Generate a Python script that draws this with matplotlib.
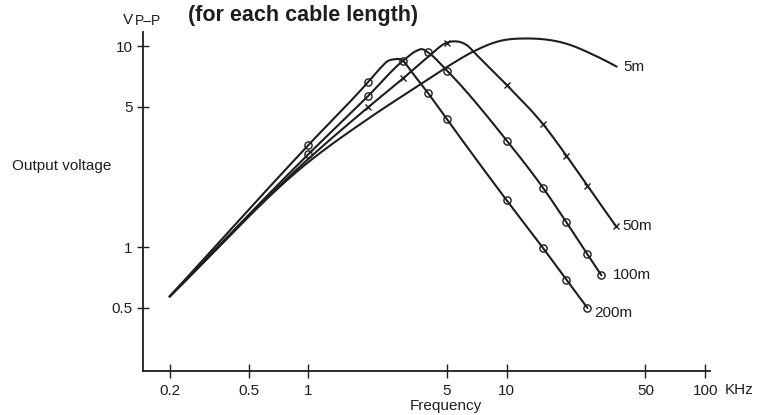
import numpy as np
import matplotlib
matplotlib.use("Agg")
import matplotlib.pyplot as plt
from matplotlib.ticker import FixedLocator, FixedFormatter, NullLocator

# ---------------- data ----------------
freq_5m = [0.2, 1, 2, 3.52, 5.18, 6.8, 9.25, 12.6, 20.1, 27.3, 35.8]
volt_5m = [0.57, 2.65, 4.35, 6.28, 8.05, 9.4, 10.6, 10.9, 10.25, 9.05, 7.9]
mark_5m = [0, 0, 0, 0, 0, 0, 0, 0, 0, 0, 0]

freq_50m = [0.2, 1, 2, 3, 4, 5, 5.4, 6.29, 7.06, 10, 15.2, 20, 25.5, 35.4]
volt_50m = [0.57, 2.75, 4.96, 6.9, 8.8, 10.4, 10.55, 10.1, 9.02, 6.4, 4.1, 2.85, 2.02, 1.28]
mark_50m = [0, 0, 1, 1, 0, 1, 0, 0, 0, 1, 1, 1, 1, 1]

freq_100m = [0.2, 1, 2, 3, 3.52, 3.73, 4, 5, 10, 15.2, 20, 25.5, 30]
volt_100m = [0.57, 2.9, 5.64, 8.45, 9.48, 9.65, 9.31, 7.54, 3.39, 1.98, 1.33, 0.923, 0.726]
mark_100m = [0, 1, 1, 0, 0, 0, 1, 1, 1, 1, 1, 1, 1]

freq_200m = [0.2, 1, 2, 2.3, 2.53, 2.68, 3, 3.26, 4, 5, 10, 15.2, 20, 25.5]
volt_200m = [0.57, 3.22, 6.62, 7.75, 8.45, 8.58, 8.45, 7.6, 5.86, 4.32, 1.71, 0.995, 0.69, 0.50]
mark_200m = [0, 1, 1, 0, 0, 0, 1, 0, 1, 1, 1, 1, 1, 1]

series_labels = ["5m", "50m", "100m", "200m"]
series_markers = [None, "x", "o", "o"]

x_ticks = [0.2, 0.5, 1, 5, 10, 50, 100]
x_ticklabels = ["0.2", "0.5", "1", "5", "10", "50", "100"]
y_ticks = [0.5, 1, 5, 10]
y_ticklabels = ["0.5", "1", "5", "10"]

# ---------------- helpers ----------------
def bessel_hermite(x, y, xn):
    x = np.asarray(x, float); y = np.asarray(y, float)
    n = len(x)
    h = np.diff(x); d = np.diff(y) / h
    m = np.zeros(n)
    for k in range(1, n - 1):
        m[k] = (h[k] * d[k - 1] + h[k - 1] * d[k]) / (h[k - 1] + h[k])
    m[0] = d[0]
    m[-1] = ((2 * h[-1] + h[-2]) * d[-1] - h[-1] * d[-2]) / (h[-1] + h[-2])
    idx = np.clip(np.searchsorted(x, xn) - 1, 0, n - 2)
    t = (xn - x[idx]) / h[idx]
    h00 = 2 * t**3 - 3 * t**2 + 1
    h10 = t**3 - 2 * t**2 + t
    h01 = -2 * t**3 + 3 * t**2
    h11 = t**3 - t**2
    return h00 * y[idx] + h10 * h[idx] * m[idx] + h01 * y[idx + 1] + h11 * h[idx] * m[idx + 1]

def smooth_loglog(f, v, num=800):
    lf = np.log10(f); lv = np.log10(v)
    xs = np.linspace(lf[0], lf[-1], num)
    return 10 ** xs, 10 ** bessel_hermite(lf, lv, xs)

# ---------------- figure ----------------
plt.rcParams['font.family'] = ['Liberation Sans', 'DejaVu Sans']
ink = "#1e1e1e"
fig = plt.figure(figsize=(7.58, 4.15), dpi=100)
ax = fig.add_axes([0.1883, 0.106, 0.7484, 0.8169])
ax.set_xscale("log"); ax.set_yscale("log")
ax.set_xlim(0.1463, 105.8)
ax.set_ylim(0.2429, 11.74)

all_series = [
    (freq_5m, volt_5m, mark_5m),
    (freq_50m, volt_50m, mark_50m),
    (freq_100m, volt_100m, mark_100m),
    (freq_200m, volt_200m, mark_200m),
]
label_offsets = [(5, 0), (5, 0), (8, 0), (5, -4)]

for (f, v, mk), lab, mkr, off in zip(all_series, series_labels, series_markers, label_offsets):
    xs, ys = smooth_loglog(f, v)
    ax.plot(xs, ys, color=ink, lw=1.5, solid_capstyle="round", zorder=2)
    if mkr is not None:
        fm = [a for a, b in zip(f, mk) if b]
        vm = [a for a, b in zip(v, mk) if b]
        if mkr == "o":
            ax.plot(fm, vm, linestyle="none", marker="o", ms=5.2, mfc="none",
                    mec=ink, mew=1.0, zorder=3)
        else:
            ax.plot(fm, vm, linestyle="none", marker="x", ms=5.0, mec=ink,
                    mew=1.0, zorder=3)
    ax.annotate(lab, xy=(f[-1], v[-1]), xytext=off, textcoords="offset points",
                ha="left", va="center", fontsize=11, color=ink)

for s in ["top", "right"]:
    ax.spines[s].set_visible(False)
for s in ["left", "bottom"]:
    ax.spines[s].set_linewidth(1.3)
    ax.spines[s].set_color(ink)

ax.xaxis.set_major_locator(FixedLocator(x_ticks))
ax.xaxis.set_major_formatter(FixedFormatter(x_ticklabels))
ax.yaxis.set_major_locator(FixedLocator(y_ticks))
ax.yaxis.set_major_formatter(FixedFormatter(y_ticklabels))
ax.xaxis.set_minor_locator(NullLocator())
ax.yaxis.set_minor_locator(NullLocator())
ax.tick_params(axis="x", direction="inout", length=10, width=1.0, pad=4,
               labelsize=11, colors=ink)
ax.tick_params(axis="y", direction="inout", length=8.5, width=1.0, pad=3,
               labelsize=11, colors=ink)

# axis texts
fig.text(12 / 758, 1 - 166 / 415, "Output voltage", ha="left", va="center",
         fontsize=11, color=ink)
fig.text(446 / 758, 1 - 406 / 415, "Frequency", ha="center", va="center",
         fontsize=11, color=ink)
fig.text(725 / 758, 1 - 390 / 415, "KHz", ha="left", va="center",
         fontsize=11, color=ink)
fig.text(123 / 758, 1 - 23.5 / 415, "V", ha="left", va="baseline",
         fontsize=11, color=ink)
fig.text(134.5 / 758, 1 - 25 / 415, "P\u2013P", ha="left", va="baseline",
         fontsize=10, color=ink)
fig.text(188 / 758, 1 - 15 / 415, "(for each cable length)", ha="left",
         va="center", fontsize=15.5, fontweight="bold", color=ink)

fig.savefig("out.png", dpi=100)
